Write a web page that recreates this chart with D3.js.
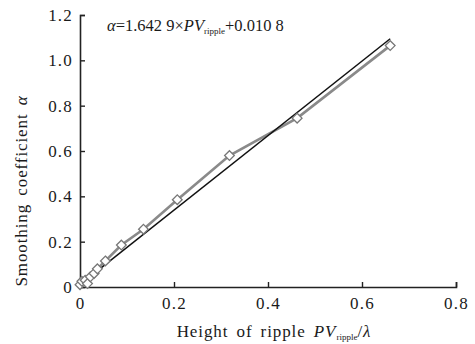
<!DOCTYPE html>
<html>
<head>
<meta charset="utf-8">
<script src="https://cdn.jsdelivr.net/npm/d3@7"></script>
<style>
  body { margin: 0; background: #fff; }
  svg text { font-family: "Liberation Serif", "DejaVu Serif", serif; fill: #1a1a1a; }
</style>
</head>
<body>
<svg id="chart"></svg>
<script>
// measured data (PV_ripple / lambda vs smoothing coefficient)
const ripple = [0, 0.004, 0.011, 0.016, 0.022, 0.03, 0.037, 0.054, 0.088, 0.135, 0.207, 0.318, 0.462, 0.66];
const alpha = [0.01, 0.025, 0.03, 0.015, 0.045, 0.06, 0.08, 0.115, 0.185, 0.255, 0.385, 0.58, 0.745, 1.065];

// linear fit from the paper
const slope = 1.6429;
const intercept = 0.0108;
const fitRange = [0, 0.66];

const xTicks = [0, 0.2, 0.4, 0.6, 0.8];
const yTicks = [0, 0.2, 0.4, 0.6, 0.8, 1.0, 1.2];

const W = 475, H = 344;
const margin = { top: 15, right: 19, bottom: 57, left: 80 };
const width = W - margin.left - margin.right;
const height = H - margin.top - margin.bottom;

const root = d3.select("#chart").attr("width", W).attr("height", H);
const svg = root.append("g").attr("transform", `translate(${margin.left},${margin.top})`);

const x = d3.scaleLinear().domain([0, 0.8]).range([0, width]);
const y = d3.scaleLinear().domain([0, 1.2]).range([height, 0]);

const fmtX = d => d === 0 ? "0" : d3.format(".1f")(d);

// axes, ticks pointing inward
const xAxis = svg.append("g").attr("transform", `translate(0,${height})`)
  .call(d3.axisBottom(x).tickValues(xTicks).tickSize(-5).tickPadding(10).tickFormat(fmtX));
const yAxis = svg.append("g")
  .call(d3.axisLeft(y).tickValues(yTicks).tickSize(-5).tickPadding(7).tickFormat(fmtX));

[xAxis, yAxis].forEach(a => {
  a.select(".domain").attr("stroke", "#222").attr("stroke-width", 1.6);
  a.selectAll(".tick line").attr("stroke", "#222").attr("stroke-width", 1.4);
  a.selectAll(".tick text").style("font-size", "17px").style("letter-spacing", "1.2px").attr("fill", "#1a1a1a");
});
// hide tick marks at origin
xAxis.selectAll(".tick").filter(d => d === 0).select("line").remove();
yAxis.selectAll(".tick").filter(d => d === 0).select("line").remove();

// measured series
const pts = ripple.map((r, i) => [r, alpha[i]]);
svg.append("path")
  .datum(pts)
  .attr("fill", "none")
  .attr("stroke", "#8a8a8a")
  .attr("stroke-width", 2.6)
  .attr("d", d3.line().x(d => x(d[0])).y(d => y(d[1])));

// fit line
svg.append("path")
  .datum(fitRange.map(v => [v, slope * v + intercept]))
  .attr("fill", "none")
  .attr("stroke", "#111")
  .attr("stroke-width", 1.5)
  .attr("d", d3.line().x(d => x(d[0])).y(d => y(d[1])));

// diamond markers
svg.selectAll(".pt")
  .data(pts)
  .enter()
  .append("path")
  .attr("class", "pt")
  .attr("transform", d => `translate(${x(d[0])},${y(d[1])})`)
  .attr("d", d3.symbol().type(d3.symbolDiamond2).size(60))
  .attr("fill", "#fff")
  .attr("stroke", "#777")
  .attr("stroke-width", 1.3);

// equation
const eq = svg.append("text").attr("x", 27).attr("y", 16).style("font-size", "16.5px");
eq.append("tspan").style("font-style", "italic").text("α");
eq.append("tspan").text("=1.642 9×");
eq.append("tspan").style("font-style", "italic").text("PV");
eq.append("tspan").attr("dy", 3).style("font-size", "9px").text("ripple");
eq.append("tspan").attr("dy", -3).text("+0.010 8");

// x label
const xl = root.append("text")
  .attr("x", 274)
  .attr("y", 337)
  .attr("text-anchor", "middle")
  .style("font-size", "17px")
  .style("letter-spacing", "0.9px")
  .style("word-spacing", "3px");
xl.append("tspan").text("Height of ripple ");
xl.append("tspan").style("font-style", "italic").text("PV");
xl.append("tspan").attr("dy", 3).style("font-size", "9px").style("letter-spacing", "0px").text("ripple");
xl.append("tspan").attr("dy", -3).text("/");
xl.append("tspan").style("font-style", "italic").text("λ");

// y label
const yl = root.append("text")
  .attr("transform", `translate(27,191) rotate(-90)`)
  .attr("text-anchor", "middle")
  .style("font-size", "17px")
  .style("letter-spacing", "0.9px")
  .style("word-spacing", "3px");
yl.append("tspan").text("Smoothing coefficient ");
yl.append("tspan").style("font-style", "italic").text("α");
</script>
</body>
</html>
